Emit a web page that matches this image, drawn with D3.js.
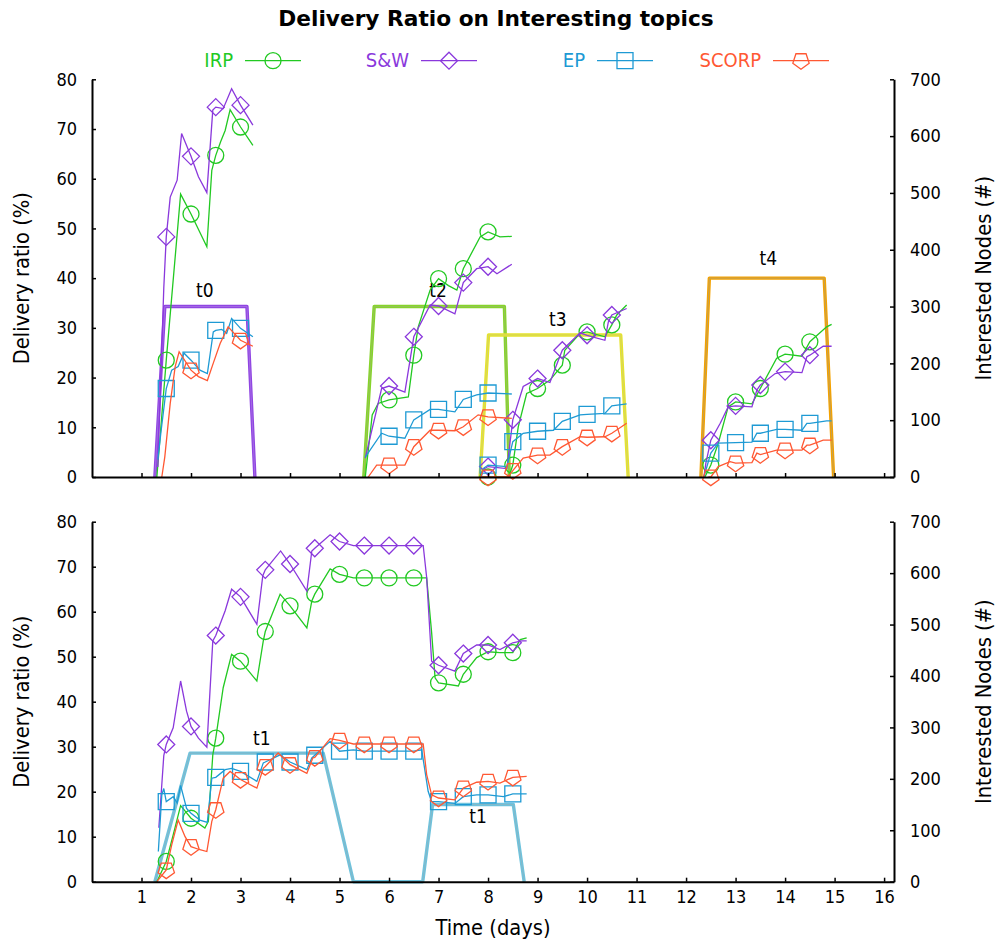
<!DOCTYPE html>
<html>
<head>
<meta charset="utf-8">
<script src="https://cdn.jsdelivr.net/npm/d3@7"></script>
<style>
  body { margin: 0; background: #fff; }
  svg text { font-family: "DejaVu Sans Condensed", "DejaVu Sans", sans-serif; font-stretch: condensed; fill: #000; }
</style>
</head>
<body>
<svg id="chart" width="995" height="942"></svg>
<script>
// ---- data -------------------------------------------------------------
const xTicks = d3.range(1, 17);
const yTicks = d3.range(0, 81, 10);
const y2Ticks = d3.range(0, 701, 100);

const seriesNames = ["IRP", "S&W", "EP", "SCORP"];

// each point: [day, delivery ratio %, 1 if a point symbol is drawn]
// upper panel: one segment per topic window (t0, t2, t3, t4)
const irpTop = [
  [[1.31,0],[1.5,23.5,1],[1.79,56.9],[2.0,52.9,1],[2.32,46.3],[2.42,61.7],[2.5,64.7,1],[2.6,67.5],[2.69,69.7],[2.79,73.9],[3.0,70.4,1],[3.25,66.7]],
  [[5.52,0],[5.66,12.5],[5.78,14.8],[6.0,15.5,1],[6.39,16.1],[6.5,24.5,1],[6.59,30.2],[6.83,37.6],[7.0,39.9,1],[7.2,38.5],[7.37,37.6],[7.5,41.9,1],[7.84,48.3],[8.0,49.3,1],[8.24,48.3],[8.48,48.4]],
  [[7.87,0],[8.0,0,1],[8.42,0],[8.5,2.4,1],[8.61,10.1],[8.78,16.8],[9.0,17.8,1],[9.25,19.5],[9.5,22.5,1],[9.55,25.5],[9.86,28.9],[10.0,29.2,1],[10.36,28.2],[10.5,30.6,1],[10.6,32.6],[10.8,34.6]],
  [[12.38,0],[12.5,2.4,1],[12.65,6.8],[12.85,14.1],[13.0,15.1,1],[13.33,14.7],[13.5,17.8,1],[13.83,23.9],[14.0,24.7,1],[14.34,24.3],[14.5,27.2,1],[14.84,30.2],[14.94,30.7]]
];
const swTop = [
  [[1.33,2],[1.45,38],[1.5,48.3,1],[1.58,56.3],[1.72,59.7],[1.81,69.1],[2.0,64.5,1],[2.15,60.4],[2.32,57.2],[2.44,73.8],[2.5,74.4,1],[2.65,74.1],[2.82,78.1],[3.0,74.8,1],[3.25,70.8]],
  [[5.52,3.8],[5.85,17.8],[6.0,18.3,1],[6.32,17.1],[6.5,28.2,1],[6.83,34.6],[7.0,34.4,1],[7.33,32.8],[7.5,39.1,1],[7.77,41.9],[8.0,42.3,1],[8.18,40.9],[8.48,42.8]],
  [[7.86,0],[7.9,1.5],[8.0,2.1,1],[8.38,1.7],[8.5,11.5,1],[8.71,18.2],[9.0,19.8,1],[9.25,19.0],[9.42,23.5],[9.5,25.5,1],[9.86,29.0],[10.0,28.5,1],[10.36,27.5],[10.43,31.2],[10.5,32.6,1],[10.8,33.9]],
  [[12.36,0],[12.4,2.8],[12.5,7.4,1],[12.69,10.8],[12.85,14.1],[13.0,14.3,1],[13.33,14.1],[13.43,17.5],[13.5,18.5,1],[13.8,20.8],[14.0,21.2,1],[14.34,21.0],[14.44,24.2],[14.5,24.5,1],[14.77,26.3],[14.94,26.3]]
];
const epTop = [
  [[1.33,3.5],[1.39,8.8],[1.5,17.8,1],[1.61,21.5],[1.74,22.2],[1.86,24.9],[2.0,23.5,1],[2.18,21.5],[2.33,20.8],[2.45,29.2],[2.5,29.5,1],[2.62,29.7],[2.72,28.9],[2.82,31.9],[3.0,29.9,1],[3.25,28.2]],
  [[5.52,4],[5.85,8.8],[6.0,8.2,1],[6.32,7.8],[6.5,11.5,1],[6.83,13.6],[7.0,13.6,1],[7.33,13.1],[7.5,15.6,1],[7.77,16.5],[8.0,16.9,1],[8.48,16.7]],
  [[7.86,0],[7.9,1.7],[8.0,2.4,1],[8.38,2.1],[8.5,7.1,1],[8.71,8.8],[9.0,9.2,1],[9.32,9.4],[9.5,11.2,1],[9.86,12.5],[10.0,12.6,1],[10.36,12.8],[10.5,14.3,1],[10.8,14.7]],
  [[12.36,0],[12.5,4.8,1],[12.65,6.8],[13.0,6.9,1],[13.33,7.0],[13.43,8.8],[13.5,8.8,1],[13.83,9.6],[14.0,9.6,1],[14.34,9.4],[14.44,10.8],[14.5,10.8,1],[14.84,11.3],[14.94,11.3]]
];
const scorpTop = [
  [[1.41,0],[1.47,4],[1.58,14.8],[1.68,22.2],[1.76,25.2],[2.0,21.5,1],[2.15,20.2],[2.33,19.4],[2.45,22.9],[2.59,26.9],[2.75,30.2],[3.0,27.5,1],[3.25,26.3]],
  [[5.58,0],[5.75,2.4],[6.0,2.4,1],[6.32,2.4],[6.5,6.1,1],[6.83,9.4],[7.0,9.4,1],[7.33,9.3],[7.5,10.1,1],[7.8,12.5],[8.0,12.1,1],[8.48,11.8]],
  [[7.87,0],[8.0,0,1],[8.4,0],[8.5,1.3,1],[8.71,3.8],[9.0,4.4,1],[9.25,4.4],[9.5,6.1,1],[9.86,8.1],[10.0,8.0,1],[10.36,8.1],[10.5,8.8,1],[10.8,10.8]],
  [[12.45,0],[12.5,0,1],[12.65,2.1],[12.89,3.1],[13.0,2.8,1],[13.33,2.9],[13.43,4.8],[13.5,4.5,1],[13.83,5.4],[14.0,5.4,1],[14.34,5.4],[14.44,6.4],[14.5,6.4,1],[14.77,7.4],[14.94,7.4]]
];

// lower panel: topic t1
const irpBottom = [
  [[1.31,0],[1.5,4.5,1],[1.64,10.4],[1.79,16.9],[2.0,14.1,1],[2.28,11.9],[2.35,13.4],[2.44,28.2],[2.5,31.9,1],[2.65,43.1],[2.82,50.5],[3.0,49.0,1],[3.33,44.6],[3.46,53.5],[3.5,55.6,1],[3.8,63.9],[4.0,61.3,1],[4.34,56.4],[4.44,62.4],[4.5,63.9,1],[4.81,69.5],[5.0,68.3,1],[5.28,67.5],[5.5,67.5,1],[6.0,67.5,1],[6.5,67.5,1],[6.76,67.5],[6.86,55.4],[6.93,45.3],[7.0,44.2,1],[7.4,43.5],[7.5,46.1,1],[7.77,49.8],[8.0,51.1,1],[8.24,50.9],[8.5,50.9,1],[8.65,53.8],[8.78,54.2]]
];
const swBottom = [
  [[1.35,12],[1.45,28],[1.5,30.5,1],[1.64,34.2],[1.79,44.6],[1.91,37.9],[2.0,34.5,1],[2.15,31.9],[2.32,29.9],[2.44,53.5],[2.5,54.7,1],[2.69,60.2],[2.82,65.0],[3.0,63.3,1],[3.33,57.2],[3.45,68.0],[3.5,69.3,1],[3.81,73.5],[4.0,70.6,1],[4.34,64.6],[4.44,73.5],[4.5,74.1,1],[4.81,77.1],[5.0,75.6,1],[5.28,74.7],[5.5,74.7,1],[6.0,74.7,1],[6.5,74.7,1],[6.69,74.7],[6.76,67.6],[6.86,49.0],[7.0,48.1,1],[7.33,46.8],[7.5,50.7,1],[7.77,52.6],[8.0,52.6,1],[8.24,51.6],[8.5,53.1,1],[8.68,53.5],[8.78,53.5]]
];
const epBottom = [
  [[1.34,6.7],[1.41,19.3],[1.45,20.7],[1.5,17.8,1],[1.64,18.9],[1.72,17.5],[1.79,21.4],[1.91,16.3],[2.0,15.2,1],[2.18,13.7],[2.33,13.2],[2.42,23.0],[2.5,23.2,1],[2.69,24.9],[2.82,25.2],[3.0,24.5,1],[3.33,22.3],[3.46,26.4],[3.5,26.6,1],[3.8,28.2],[4.0,26.6,1],[4.34,24.9],[4.44,27.5],[4.5,28.1,1],[4.81,31.2],[5.0,29.0,1],[5.28,29.3],[5.5,29.0,1],[6.0,29.0,1],[6.5,29.0,1],[6.66,29.3],[6.79,20.1],[6.86,17.8],[7.0,17.8,1],[7.33,17.4],[7.5,18.9,1],[7.77,19.3],[8.0,19.3,1],[8.31,18.9],[8.5,19.5,1],[8.78,19.5]]
];
const scorpBottom = [
  [[1.31,0],[1.5,2.6,1],[1.61,8.2],[1.74,13.7],[1.88,10.0],[2.0,7.8,1],[2.18,7.1],[2.32,6.7],[2.42,13.4],[2.5,16.0,1],[2.65,23.0],[2.79,24.5],[3.0,22.7,1],[3.33,20.8],[3.46,25.2],[3.5,25.6,1],[3.76,28.6],[4.0,26.0,1],[4.34,24.1],[4.46,27.5],[4.5,27.6,1],[4.81,31.8],[5.0,31.4,1],[5.28,30.6],[5.5,30.6,1],[6.0,30.6,1],[6.5,30.6,1],[6.69,30.6],[6.76,23.8],[6.86,19.3],[7.0,18.6,1],[7.33,18.2],[7.5,20.8,1],[7.77,22.1],[8.0,22.3,1],[8.24,21.9],[8.5,23.2,1],[8.78,23.4]]
];

// interested nodes per topic: [day, nodes]
const topicsTop = ["t0", "t2", "t3", "t4"];
const nodesTop = [
  [[1.27,0],[1.47,300],[3.13,300],[3.29,0]],
  [[5.49,0],[5.70,300],[8.33,300],[8.43,0]],
  [[7.84,0],[8.01,250],[10.68,250],[10.83,0]],
  [[12.30,0],[12.47,350],[14.79,350],[14.98,0]]
];
const topicsBottom = ["t1"];
const nodesBottom = [
  [[1.27,0],[1.98,250],[4.67,250],[5.28,0],[6.68,0],[6.88,150],[8.51,150],[8.73,0]]
];
// topic name annotations: [name, day, nodes]
const labelsTop = [["t0",2.28,317],["t2",6.99,317],["t3",9.41,265],["t4",13.66,373]];
const labelsBottom = [["t1",3.43,266],["t1",7.8,114]];

// ---- styles ------------------------------------------------------------
const seriesStyle = {
  "IRP":   { color: "#22c922", shape: "circle" },
  "S&W":   { color: "#8a38dc", shape: "diamond" },
  "EP":    { color: "#1e9ad4", shape: "square" },
  "SCORP": { color: "#ff5833", shape: "pentagon" }
};
const topicStyle = {
  t0: ["#9045e2", "#b993e8"],
  t1: ["#6ec3dd", "#9eaab2"],
  t2: ["#86d42a", "#a4b08a"],
  t3: ["#e6e42a", "#c2c2a2"],
  t4: ["#f4a200", "#8c9fb0"]
};

function symbolPath(shape) {
  if (shape === "circle") return d3.symbol(d3.symbolCircle, Math.PI * 8 * 8)();
  if (shape === "square") return "M-8,-8H8V8H-8Z";
  if (shape === "diamond") return "M0,-8.5L8.5,0L0,8.5L-8.5,0Z";
  const R = 8.6;
  const pts = d3.range(5).map(k => {
    const a = Math.PI / 2 + k * 2 * Math.PI / 5;
    return [R * Math.cos(a), R * Math.sin(a)];
  });
  return "M" + pts.map(p => p.join(",")).join("L") + "Z";
}

// ---- layout ------------------------------------------------------------
const svg = d3.select("#chart");
const x = d3.scaleLinear().domain([0, 16.2]).range([92, 894]);

const panels = [
  {
    y: d3.scaleLinear().domain([0, 80]).range([477, 79.3]),
    y2: d3.scaleLinear().domain([0, 700]).range([477, 79.3]),
    data: { "IRP": irpTop, "S&W": swTop, "EP": epTop, "SCORP": scorpTop },
    topics: topicsTop, nodes: nodesTop, labels: labelsTop, xLabels: false
  },
  {
    y: d3.scaleLinear().domain([0, 80]).range([881.7, 521.7]),
    y2: d3.scaleLinear().domain([0, 700]).range([881.7, 521.7]),
    data: { "IRP": irpBottom, "S&W": swBottom, "EP": epBottom, "SCORP": scorpBottom },
    topics: topicsBottom, nodes: nodesBottom, labels: labelsBottom, xLabels: true
  }
];

panels.forEach(p => {
  const g = svg.append("g");

  // interested-node windows (right axis)
  const nodeLine = d3.line().x(d => x(d[0])).y(d => p.y2(d[1]));
  p.nodes.forEach((pts, i) => {
    const [outer, inner] = topicStyle[p.topics[i]];
    g.append("path").attr("d", nodeLine(pts)).attr("fill", "none")
      .attr("stroke", outer).attr("stroke-width", 3.4).attr("stroke-linejoin", "round");
    g.append("path").attr("d", nodeLine(pts)).attr("fill", "none")
      .attr("stroke", inner).attr("stroke-width", 0.8).attr("stroke-opacity", 0.6)
      .attr("stroke-linejoin", "round");
  });

  // topic names
  p.labels.forEach(l => {
    g.append("text").attr("x", x(l[1])).attr("y", p.y2(l[2]))
      .attr("text-anchor", "middle").attr("font-size", 19).text(l[0]);
  });

  // delivery ratio series
  const line = d3.line().x(d => x(d[0])).y(d => p.y(d[1]));
  seriesNames.forEach(name => {
    const st = seriesStyle[name];
    const path = symbolPath(st.shape);
    p.data[name].forEach(seg => {
      g.append("path").attr("d", line(seg)).attr("fill", "none")
        .attr("stroke", st.color).attr("stroke-width", 1.3);
      g.selectAll(null).data(seg.filter(d => d[2])).join("path")
        .attr("d", path)
        .attr("transform", d => `translate(${x(d[0])},${p.y(d[1])})`)
        .attr("fill", "none").attr("stroke", st.color).attr("stroke-width", 1.3);
    });
  });

  // axes
  const fmt = d3.format("d");
  const ax = [
    g.append("g").attr("transform", `translate(0,${p.y.range()[0]})`)
      .call(d3.axisBottom(x).tickValues(xTicks).tickSizeInner(-4).tickSizeOuter(0)
        .tickPadding(8.5).tickFormat(p.xLabels ? fmt : () => "")),
    g.append("g").attr("transform", "translate(92,0)")
      .call(d3.axisLeft(p.y).tickValues(yTicks).tickSizeInner(-4).tickSizeOuter(0).tickPadding(15)),
    g.append("g").attr("transform", "translate(894,0)")
      .call(d3.axisRight(p.y2).tickValues(y2Ticks).tickSizeInner(-4).tickSizeOuter(0).tickPadding(16))
  ];
  ax.forEach(a => {
    a.attr("font-size", 18).attr("font-family", null);
    a.select(".domain").attr("stroke", "#000").attr("stroke-width", 2);
    a.selectAll(".tick line").attr("stroke", "#000").attr("stroke-width", 1.5);
  });

  const mid = (p.y.range()[0] + p.y.range()[1]) / 2;
  g.append("text").attr("transform", `translate(29,${mid}) rotate(-90)`)
    .attr("text-anchor", "middle").attr("font-size", 21.7).text("Delivery ratio (%)");
  g.append("text").attr("transform", `translate(991,${mid}) rotate(-90)`)
    .attr("text-anchor", "middle").attr("font-size", 21.7).text("Interested Nodes (#)");
});

// x label
svg.append("text").attr("x", 493).attr("y", 935).attr("text-anchor", "middle")
  .attr("font-size", 21.7).text("Time (days)");

// title
svg.append("text").attr("x", 496).attr("y", 26).attr("text-anchor", "middle")
  .attr("font-size", 21.7).attr("font-weight", "bold")
  .style("font-family", "'DejaVu Sans', sans-serif").style("font-stretch", "normal")
  .text("Delivery Ratio on Interesting topics");

// legend
seriesNames.forEach((name, i) => {
  const st = seriesStyle[name];
  const end = 233 + i * 176;
  const lg = svg.append("g");
  lg.append("text").attr("x", end).attr("y", 66.7).attr("text-anchor", "end")
    .attr("font-size", 20).style("fill", st.color).text(name);
  lg.append("line").attr("x1", end + 12).attr("x2", end + 68).attr("y1", 60.7).attr("y2", 60.7)
    .attr("stroke", st.color).attr("stroke-width", 1.3);
  lg.append("path").attr("d", symbolPath(st.shape))
    .attr("transform", `translate(${end + 40},60.7)`)
    .attr("fill", "none").attr("stroke", st.color).attr("stroke-width", 1.3);
});
</script>
</body>
</html>
